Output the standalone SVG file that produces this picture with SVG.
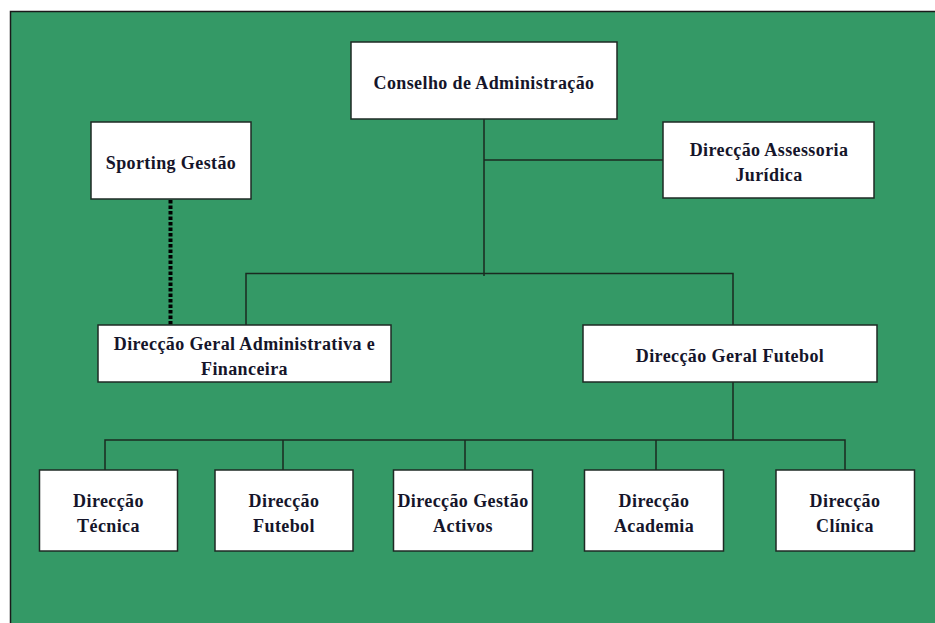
<svg xmlns="http://www.w3.org/2000/svg" width="935" height="623" viewBox="0 0 935 623">
  <style>
    .box { fill: #ffffff; stroke: #1e2a24; stroke-width: 1.5; }
    .lbl { font-family: "Liberation Serif", "Times New Roman", serif; font-weight: bold; font-size: 18px; letter-spacing: 0.4px; fill: #15152a; text-anchor: middle; }
    .conn { fill: none; stroke: #1a2a20; stroke-width: 1.5; }
    .dot { fill: none; stroke: #000000; stroke-width: 4; stroke-dasharray: 3.5 2; }
  </style>
  <rect x="0" y="0" width="935" height="623" fill="#ffffff"/>
  <rect x="10.5" y="11.5" width="930" height="620" fill="#349966" stroke="#1a1a1a" stroke-width="1.5"/>

  <g id="connectors">
    <path class="conn" d="M484 119 V276"/>
    <path class="conn" d="M484 160 H663"/>
    <path class="conn" d="M246 325 V273.5 H733 V325"/>
    <path class="conn" d="M733 382 V440"/>
    <path class="conn" d="M105 470 V440 H845 V470"/>
    <path class="conn" d="M283 440 V470"/>
    <path class="conn" d="M465 440 V470"/>
    <path class="conn" d="M656 440 V470"/>
    <path class="dot" d="M170.5 200 V325"/>
  </g>

  <g id="conselho">
    <rect class="box" x="351" y="42" width="266" height="77"/>
    <text class="lbl" x="484" y="89">Conselho de Administração</text>
  </g>
  <g id="sporting-gestao">
    <rect class="box" x="91" y="122" width="160" height="77"/>
    <text class="lbl" x="171" y="169">Sporting Gestão</text>
  </g>
  <g id="assessoria-juridica">
    <rect class="box" x="663" y="122" width="211" height="76"/>
    <text class="lbl" x="769" y="156">Direcção Assessoria</text>
    <text class="lbl" x="769" y="181">Jurídica</text>
  </g>
  <g id="geral-admin-financeira">
    <rect class="box" x="98" y="325" width="293" height="57"/>
    <text class="lbl" x="244.5" y="350">Direcção Geral Administrativa e</text>
    <text class="lbl" x="244.5" y="375">Financeira</text>
  </g>
  <g id="geral-futebol">
    <rect class="box" x="583" y="325" width="294" height="57"/>
    <text class="lbl" x="730" y="362">Direcção Geral Futebol</text>
  </g>
  <g id="tecnica">
    <rect class="box" x="39.5" y="470" width="138" height="81"/>
    <text class="lbl" x="108.5" y="507">Direcção</text>
    <text class="lbl" x="108.5" y="532">Técnica</text>
  </g>
  <g id="futebol">
    <rect class="box" x="215" y="470" width="138" height="81"/>
    <text class="lbl" x="284" y="507">Direcção</text>
    <text class="lbl" x="284" y="532">Futebol</text>
  </g>
  <g id="gestao-activos">
    <rect class="box" x="393.5" y="470" width="139" height="81"/>
    <text class="lbl" x="463" y="507">Direcção Gestão</text>
    <text class="lbl" x="463" y="532">Activos</text>
  </g>
  <g id="academia">
    <rect class="box" x="584.5" y="470" width="139" height="81"/>
    <text class="lbl" x="654" y="507">Direcção</text>
    <text class="lbl" x="654" y="532">Academia</text>
  </g>
  <g id="clinica">
    <rect class="box" x="776" y="470" width="138.5" height="81"/>
    <text class="lbl" x="845" y="507">Direcção</text>
    <text class="lbl" x="845" y="532">Clínica</text>
  </g>
</svg>
